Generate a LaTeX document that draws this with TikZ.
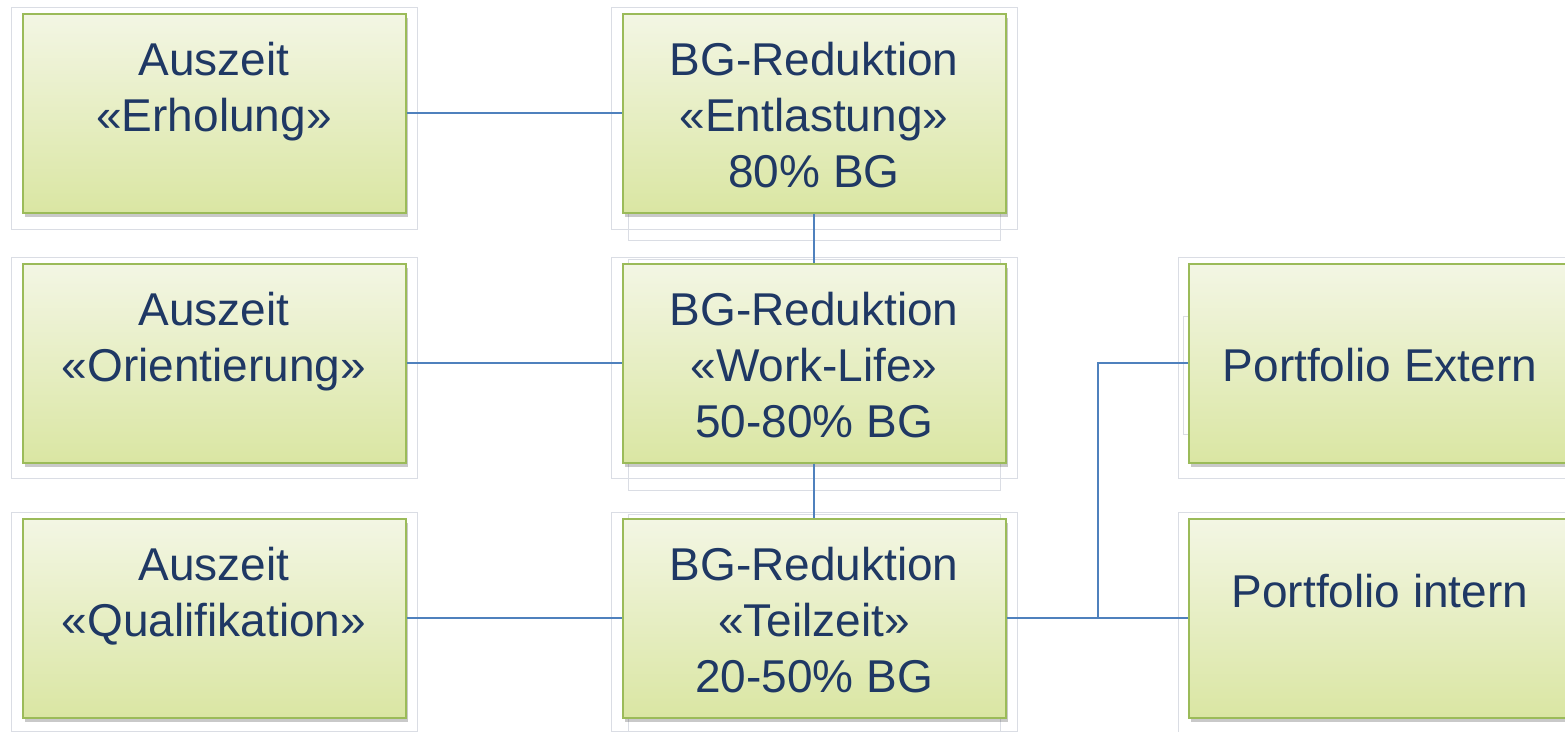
\documentclass[tikz,border=0pt]{standalone}
\usepackage{fontspec}
\setmainfont{Liberation Sans}
\usetikzlibrary{shadows,calc}
\definecolor{txtc}{RGB}{31,56,100}
\definecolor{boxtop}{RGB}{243,246,228}
\definecolor{boxbot}{RGB}{218,230,163}
\definecolor{boxline}{RGB}{155,187,89}
\definecolor{connc}{RGB}{79,129,189}
\definecolor{framec}{RGB}{218,221,228}
\begin{document}
\begin{tikzpicture}[x=1pt,y=-1pt,
  box/.style={rectangle, minimum width=383pt, minimum height=199pt, inner sep=0pt,
    draw=boxline, line width=2pt, top color=boxtop, bottom color=boxbot,
    drop shadow={shadow xshift=2pt, shadow yshift=-4pt, opacity=0.3, fill=black!70}},
  txt/.style={font=\fontsize{46}{56}\selectfont, text=txtc, align=center, inner sep=0pt, anchor=base},
  conn/.style={draw=connc, line width=1.6pt},
  framebox/.style={draw=framec, line width=0.8pt}]
\useasboundingbox (0,0) rectangle (1565,731);
\clip (0,0) rectangle (1565,731);
% faint frames
\draw[framebox] (11,7) rectangle (417,229);
\draw[framebox] (11,257) rectangle (417,478);
\draw[framebox] (11,512) rectangle (417,731);
\draw[framebox] (611,7) rectangle (1017,229);
\draw[framebox] (628,13) rectangle (1000,240);
\draw[framebox] (611,257) rectangle (1017,478);
\draw[framebox] (628,259) rectangle (1000,490);
\draw[framebox] (611,512) rectangle (1017,731);
\draw[framebox] (628,514) rectangle (1000,731);
\draw[framebox] (1178,257) rectangle (1570,478);
\draw[framebox] (1183,316) rectangle (1200,434);
\draw[framebox] (1178,512) rectangle (1570,735);
% boxes
\node[box] (l1) at (214,113) {};
\node[box] (l2) at (214,363) {};
\node[box] (l3) at (214,618) {};
\node[box] (m1) at (814,113) {};
\node[box] (m2) at (814,363) {};
\node[box] (m3) at (814,618) {};
\node[box] (r2) at (1380,363) {};
\node[box] (r3) at (1380,618) {};
% texts (base anchor = baseline of the last line)
\node[txt] (tl1) at (214,131) {Auszeit\\«Erholung»};
\node[txt] (tl2) at (214,381) {Auszeit\\«Orientierung»};
\node[txt] (tl3) at (214,636) {Auszeit\\«Qualifikation»};
\node[txt] (tm1) at (814,187) {BG-Reduktion\\«Entlastung»\\80\% BG};
\node[txt] (tm2) at (814,437) {BG-Reduktion\\«Work-Life»\\50-80\% BG};
\node[txt] (tm3) at (814,692) {BG-Reduktion\\«Teilzeit»\\20-50\% BG};
\node[txt] (tr2) at (1380,381) {Portfolio Extern};
\node[txt] (tr3) at (1380,607) {Portfolio intern};
% connectors
\coordinate (j) at (1098,618);
\draw[conn] (l1) -- (m1);
\draw[conn] (l2) -- (m2);
\draw[conn] (l3) -- (m3);
\draw[conn] (m1) -- (m2);
\draw[conn] (m2) -- (m3);
\draw[conn] (m3) -- (r3);
\draw[conn] (j) |- (r2);
\end{tikzpicture}
\end{document}
